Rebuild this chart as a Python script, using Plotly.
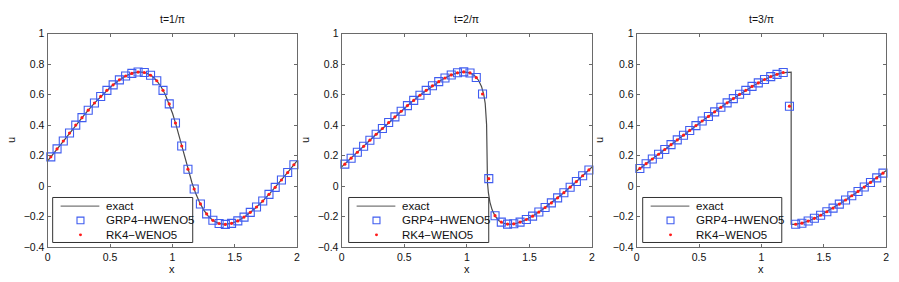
import plotly.graph_objects as go

# ---------------- data ----------------
titles = ["t=1/π", "t=2/π", "t=3/π"]
x_ticks = [0, 0.5, 1, 1.5, 2]
y_ticks = [-0.4, -0.2, 0, 0.2, 0.4, 0.6, 0.8, 1]
legend_names = ["exact", "GRP4−HWENO5", "RK4−WENO5"]

x_cells = [0.025, 0.075, 0.125, 0.175, 0.225, 0.275, 0.325, 0.375, 0.425, 0.475,
           0.525, 0.575, 0.625, 0.675, 0.725, 0.775, 0.825, 0.875, 0.925, 0.975,
           1.025, 1.075, 1.125, 1.175, 1.225, 1.275, 1.325, 1.375, 1.425, 1.475,
           1.525, 1.575, 1.625, 1.675, 1.725, 1.775, 1.825, 1.875, 1.925, 1.975]

# exact solution curves (x, u)
exact1_x = [-0.0696, 0.0047, 0.0796, 0.1545, 0.2288, 0.3018, 0.3731, 0.4421, 0.5083, 0.5714,
            0.6310, 0.6868, 0.7387, 0.7868, 0.8310, 0.8714, 0.9083, 0.9421, 0.9731, 1.0018,
            1.0288, 1.0545, 1.0796, 1.1047, 1.1304, 1.1573, 1.1860, 1.2170, 1.2508, 1.2878,
            1.3282, 1.3724, 1.4204, 1.4724, 1.5282, 1.5878, 1.6508, 1.7170, 1.7860, 1.8573,
            1.9304, 2.0047]
exact1_u = [0.0955, 0.1718, 0.2500, 0.3282, 0.4045, 0.4770, 0.5439, 0.6036, 0.6545, 0.6955,
            0.7256, 0.7439, 0.7500, 0.7439, 0.7256, 0.6955, 0.6545, 0.6036, 0.5439, 0.4770,
            0.4045, 0.3282, 0.2500, 0.1718, 0.0955, 0.0230, -0.0439, -0.1036, -0.1545, -0.1955,
            -0.2256, -0.2439, -0.2500, -0.2439, -0.2256, -0.1955, -0.1545, -0.1036, -0.0439, 0.0230,
            0.0955, 0.1718]

exact2_x = [-0.1354, -0.0392, 0.0594, 0.1592, 0.2589, 0.3575, 0.4537, 0.5463, 0.6343, 0.7167,
            0.7928, 0.8619, 0.9236, 0.9775, 1.0236, 1.0619, 1.0928, 1.1167, 1.1343, 1.1463,
            1.1537, 1.1575, 1.1589, 1.1592, 1.1594, 1.1608, 1.1646, 1.1721, 1.1840, 1.2016,
            1.2255, 1.2564, 1.2947, 1.3408, 1.3947, 1.4564, 1.5255, 1.6016, 1.6840, 1.7721,
            1.8646, 1.9608, 2.0594]
exact2_u = [0.0230, 0.0955, 0.1718, 0.2500, 0.3282, 0.4045, 0.4770, 0.5439, 0.6036, 0.6545,
            0.6955, 0.7256, 0.7439, 0.7500, 0.7439, 0.7256, 0.6955, 0.6545, 0.6036, 0.5439,
            0.4770, 0.4045, 0.3282, 0.2500, 0.1718, 0.0955, 0.0230, -0.0439, -0.1036, -0.1545,
            -0.1955, -0.2256, -0.2439, -0.2500, -0.2439, -0.2256, -0.1955, -0.1545, -0.1036, -0.0439,
            0.0230, 0.0955, 0.1718]

exact3_x = [-0.2419, -0.1280, -0.0088, 0.1141, 0.2387, 0.3634, 0.4863, 0.6055, 0.7194, 0.8264,
            0.9250, 1.0141, 1.0929, 1.1603, 1.2162, 1.2387, 1.2387, 1.2613, 1.3171, 1.3846,
            1.4633, 1.5525, 1.6511, 1.7581, 1.8720, 1.9912, 2.1141]
exact3_u = [-0.0439, 0.0230, 0.0955, 0.1718, 0.2500, 0.3282, 0.4045, 0.4770, 0.5439, 0.6036,
            0.6545, 0.6955, 0.7256, 0.7439, 0.7500, 0.7486, -0.2486, -0.2500, -0.2439, -0.2256,
            -0.1955, -0.1545, -0.1036, -0.0439, 0.0230, 0.0955, 0.1718]

# numerical solutions at cell centres (GRP4-HWENO5 and RK4-WENO5 coincide visually)
num1_u = [0.193, 0.245, 0.297, 0.349, 0.401, 0.450, 0.499, 0.546, 0.589, 0.629,
          0.665, 0.698, 0.723, 0.740, 0.749, 0.746, 0.728, 0.692, 0.629, 0.540,
          0.415, 0.264, 0.112, -0.018, -0.116, -0.181, -0.223, -0.244, -0.250, -0.243,
          -0.227, -0.202, -0.171, -0.136, -0.097, -0.053, -0.007, 0.041, 0.090, 0.141]
num2_u = [0.145, 0.184, 0.223, 0.262, 0.302, 0.341, 0.379, 0.418, 0.455, 0.492,
          0.529, 0.563, 0.597, 0.629, 0.659, 0.686, 0.710, 0.730, 0.744, 0.750,
          0.743, 0.713, 0.605, 0.050, -0.193, -0.235, -0.248, -0.246, -0.235, -0.218,
          -0.196, -0.169, -0.139, -0.109, -0.076, -0.042, -0.006, 0.031, 0.069, 0.107]
num3_u = [0.117, 0.148, 0.179, 0.210, 0.241, 0.273, 0.304, 0.335, 0.366, 0.398,
          0.428, 0.458, 0.488, 0.518, 0.547, 0.575, 0.603, 0.629, 0.655, 0.678,
          0.700, 0.719, 0.734, 0.746, 0.525, -0.249, -0.242, -0.228, -0.210, -0.190,
          -0.167, -0.143, -0.117, -0.090, -0.062, -0.034, -0.005, 0.025, 0.055, 0.086]

exact_x = [exact1_x, exact2_x, exact3_x]
exact_u = [exact1_u, exact2_u, exact3_u]
num_u = [num1_u, num2_u, num3_u]

# ---------------- layout ----------------
W, H = 899, 282
x_dom_px = [(45, 296), (341, 593), (638, 889)]
y_top_px, y_bot_px = 29, 252
legend_box_px = [(50, 191), (348, 489), (644, 784)]
legend_top_px, legend_bot_px = 200, 247
legend_rows_px = [209, 224, 239]
ylab_px = [8, 304, 600]

FONT = "Liberation Sans, Arial, Helvetica, sans-serif"
frame_col = "#6a6a6a"
line_col = "#4a4a4a"
sq_col = "#3f5cf0"
dot_col = "#ff1a1a"
txt_col = "#111"


def px(xp):
    return xp / W


def py(yp):
    return 1 - yp / H


fig = go.Figure()
annotations = []
shapes = []
for i in range(3):
    xa = "x" if i == 0 else f"x{i+1}"
    ya = "y" if i == 0 else f"y{i+1}"
    fig.add_trace(go.Scatter(x=exact_x[i], y=exact_u[i], mode="lines", name=legend_names[0],
                             line=dict(color=line_col, width=1.2), xaxis=xa, yaxis=ya,
                             showlegend=False))
    fig.add_trace(go.Scatter(x=x_cells, y=num_u[i], mode="markers", name=legend_names[1],
                             marker=dict(symbol="square-open", size=8, color=sq_col,
                                         line=dict(width=1.1, color=sq_col)),
                             xaxis=xa, yaxis=ya, cliponaxis=False, showlegend=False))
    fig.add_trace(go.Scatter(x=x_cells, y=num_u[i], mode="markers", name=legend_names[2],
                             marker=dict(symbol="circle", size=3.2, color=dot_col),
                             xaxis=xa, yaxis=ya, cliponaxis=False, showlegend=False))

    x0, x1 = x_dom_px[i]
    axis_common = dict(showline=True, mirror="ticks", linecolor=frame_col, linewidth=1.3,
                       ticks="inside", ticklen=3, tickcolor=frame_col, showgrid=False,
                       zeroline=False, tickfont=dict(family=FONT, size=10.5, color=txt_col))
    fig.layout[("xaxis" if i == 0 else f"xaxis{i+1}")] = dict(
        domain=[px(x0), px(x1)], range=[0, 2], tickvals=x_ticks,
        ticktext=[f"{v:g}" for v in x_ticks], anchor=ya, **axis_common)
    fig.layout[("yaxis" if i == 0 else f"yaxis{i+1}")] = dict(
        domain=[py(y_bot_px), py(y_top_px)], range=[-0.4, 1], tickvals=y_ticks,
        ticktext=[f"{v:g}".replace("-", "−") for v in y_ticks], anchor=xa, **axis_common)

    cx = px((x0 + x1) / 2)
    annotations.append(dict(text=titles[i], x=cx, y=py(14), xref="paper", yref="paper",
                            xanchor="center", yanchor="middle", showarrow=False,
                            font=dict(family=FONT, size=10.5, color=txt_col)))
    annotations.append(dict(text="x", x=cx, y=py(275), xref="paper", yref="paper",
                            xanchor="center", yanchor="middle", showarrow=False,
                            font=dict(family=FONT, size=11, color=txt_col)))
    annotations.append(dict(text="u", x=px(ylab_px[i]), y=py(140), xref="paper",
                            yref="paper", xanchor="center", yanchor="middle",
                            showarrow=False, textangle=-90,
                            font=dict(family=FONT, size=11, color=txt_col)))

    # legend box (compact MATLAB-style legend)
    lx0, lx1 = legend_box_px[i]
    shapes.append(dict(type="rect", xref="paper", yref="paper",
                       x0=px(lx0), x1=px(lx1), y0=py(legend_bot_px), y1=py(legend_top_px),
                       line=dict(color="#333", width=1), fillcolor="white", layer="above"))
    r0, r1, r2 = legend_rows_px
    shapes.append(dict(type="line", xref="paper", yref="paper",
                       x0=px(lx0 + 8), x1=px(lx0 + 47), y0=py(r0), y1=py(r0),
                       line=dict(color="#777", width=1.2), layer="above"))
    shapes.append(dict(type="rect", xref="paper", yref="paper",
                       x0=px(lx0 + 24.5), x1=px(lx0 + 31.5), y0=py(r1 + 3.5), y1=py(r1 - 3.5),
                       line=dict(color=sq_col, width=1.1), layer="above"))
    shapes.append(dict(type="circle", xref="paper", yref="paper",
                       x0=px(lx0 + 26.5), x1=px(lx0 + 29.5), y0=py(r2 + 1.5), y1=py(r2 - 1.5),
                       line=dict(color=dot_col, width=0), fillcolor=dot_col, layer="above"))
    for name, r in zip(legend_names, legend_rows_px):
        annotations.append(dict(text=name, x=px(lx0 + 52), y=py(r), xref="paper",
                                yref="paper", xanchor="left", yanchor="middle",
                                showarrow=False,
                                font=dict(family=FONT, size=11.5, color=txt_col)))

fig.update_layout(width=W, height=H, margin=dict(l=0, r=0, t=0, b=0),
                  paper_bgcolor="white", plot_bgcolor="white",
                  annotations=annotations, shapes=shapes, showlegend=False)

fig.write_html("out.html", config={"displayModeBar": False},
               post_script="document.body.style.margin='0';")
